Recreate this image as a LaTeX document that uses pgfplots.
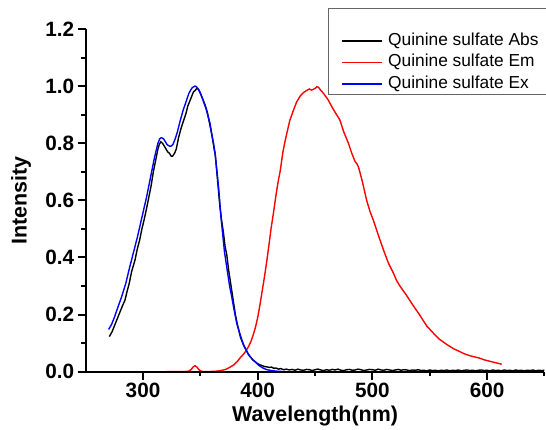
\documentclass[border=0pt]{standalone}
\usepackage{fontspec}
\setmainfont{Liberation Sans}
\usepackage{pgfplots}
\pgfplotsset{compat=1.18}
\begin{document}
\begin{tikzpicture}
\begin{axis}[
  scale only axis,
  width=458.7bp, height=342.7bp,
  xmin=250, xmax=650, ymin=0, ymax=1.2,
  clip=false,
  unbounded coords=jump,
  axis lines=left,
  axis line style={-, line width=2pt, black},
  tick align=outside,
  xtick={300,400,500,600},
  ytick={0,0.2,0.4,0.6,0.8,1.0,1.2},
  minor xtick={350,450,550,650},
  minor ytick={0.1,0.3,0.5,0.7,0.9,1.1},
  major tick length=8bp, minor tick length=4.5bp,
  every tick/.append style={black, line width=2bp},
  /pgf/number format/assume math mode=true,
  yticklabel style={/pgf/number format/.cd, fixed, fixed zerofill, precision=1},
  ticklabel style={font=\bfseries\fontsize{20.8}{24}\selectfont},
  xlabel={Wavelength(nm)},
  ylabel={Intensity},
  label style={font=\bfseries\fontsize{21.5}{24}\selectfont},
  xlabel style={at={(axis description cs:0.5,-0.1453)}, anchor=base},
  ylabel style={at={(axis description cs:-0.1286,0.5)}, anchor=base, rotate=0},
  legend cell align=left,
  legend image code/.code={\draw[#1] (0bp,0bp) -- (40bp,0bp);},
  legend style={at={(axis description cs:0.529,1.0604)}, anchor=north west,
    overlay,
    draw=black!60, line width=0.8bp, inner xsep=13bp, inner ysep=0bp,
    row sep=0bp,
    font=\fontsize{17.4}{19}\selectfont,
    nodes={inner ysep=3bp, inner xsep=2.5bp, text height=12bp, text depth=3.5bp},
    /tikz/every odd column/.append style={column sep=2.5bp}},
]
\addlegendimage{empty legend}
\addlegendentry{}
% Absorbance (black)
\addplot[black, line width=1.4bp] coordinates {
(270.6,0.123)(273,0.14)(275,0.16)(278,0.19)(280,0.21)(282,0.23)(284.3,0.251)(286,0.28)(288,0.31)(290,0.35)(293,0.391)(295,0.43)(297,0.46)(299,0.50)(300.9,0.531)(303,0.57)(305,0.61)(307,0.65)(309,0.70)(311,0.74)(312,0.76)(313,0.78)(314.2,0.796)(315.5,0.805)(317,0.80)(318.5,0.79)(320,0.78)(321.5,0.77)(323,0.765)(324.5,0.755)(325.8,0.755)(327.5,0.765)(329,0.78)(331,0.82)(333,0.85)(335,0.875)(337.5,0.905)(339,0.93)(341,0.95)(343,0.97)(344,0.98)(345.5,0.985)(346.8,0.992)(348,0.99)(349,0.985)(350.5,0.97)(352,0.955)(354,0.935)(356,0.91)(358,0.87)(360,0.83)(362,0.78)(363,0.76)(365,0.67)(367,0.58)(368.5,0.53)(370,0.49)(371.5,0.44)(373,0.41)(374.5,0.36)(376,0.32)(377.5,0.28)(379,0.24)(380.5,0.20)(382,0.17)(383.5,0.145)(385,0.12)(386.5,0.105)(388,0.09)(390,0.075)(392,0.06)(394,0.05)(396,0.04)(398,0.034)(400,0.028)(402,0.024)(404,0.021)(406,0.018)(408,0.017)(410,0.015)(412,0.016)(414,0.012)(416,0.013)(418,0.009)(420,0.011)
(422.5,0.007)(425,0.009)(427.5,0.006)(430,0.008)(432.5,0.005)(435,0.009)(437.5,0.006)(440,0.005)(442.5,0.008)(445,0.007)(447.5,0.004)(450,0.007)(452.5,0.009)(455,0.006)(457.5,0.004)(460,0.007)(462.5,0.005)(465,0.008)(467.5,0.006)(470,0.009)(472.5,0.005)(475,0.004)(477.5,0.007)(480,0.008)(482.5,0.005)(485,0.006)(487.5,0.009)(490,0.007)(492.5,0.004)(495,0.006)(497.5,0.008)(500,0.007)(502.5,0.005)(505,0.009)(507.5,0.006)(510,0.005)(512.5,0.008)(515,0.006)(517.5,0.004)(520,0.006)(522.5,0.008)(525,0.005)(527.5,0.007)(530,0.006)(532.5,0.004)(535,0.006)(537.5,0.005)(540,0.007)(542.5,0.004)(545,0.005)(547.5,0.003)(550,0.006)(552.5,0.004)(555,0.005)(557.5,0.003)(560,0.005)(562.5,0.004)(565,0.006)(567.5,0.003)(570,0.005)(572.5,0.004)(575,0.006)(577.5,0.003)(580,0.005)(582.5,0.006)(585,0.004)(587.5,0.005)(590,0.003)(592.5,0.005)(595,0.006)(597.5,0.004)(600,0.005)(602.5,0.003)(605,0.006)(607.5,0.004)(610,0.005)(612.5,0.003)(615,0.006)(617.5,0.004)(620,0.005)(622.5,0.003)(625,0.006)(627.5,0.004)(630,0.005)(632.5,0.003)(635,0.005)(637.5,0.004)(640,0.006)(642.5,0.003)(645,0.005)(647.5,0.004)(650,0.005)
};
\addlegendentry{Quinine sulfate Abs}
% Emission (red)
\addplot[red, line width=1.4bp] coordinates {
(320,0)(335,0)(340,0.002)(342,0.008)(343.5,0.016)(345.3,0.021)(347,0.016)(348.5,0.008)(350,0.003)(353,0)(360,0.001)(365,0.002)(369,0.005)(372,0.008)(375,0.014)(378.8,0.023)(382,0.035)(385,0.05)(388,0.063)(390,0.075)(392,0.088)(394,0.105)(396,0.128)(398,0.155)(400,0.19)(402,0.235)(404,0.285)(406,0.335)(408,0.39)(410,0.45)(411.6,0.50)(413.7,0.555)(416,0.62)(418,0.67)(419.5,0.70)(422,0.77)(424,0.81)(425.4,0.835)(428,0.88)(431.2,0.916)(434,0.945)(437,0.965)(440,0.978)(442.8,0.985)(445,0.99)(447,0.986)(449,0.99)(450.5,0.993)(451.5,0.998)(453,0.996)(455,0.985)(457.3,0.975)(459,0.965)(461,0.955)(464.6,0.928)(468,0.905)(471.7,0.881)(475,0.84)(479.1,0.80)(482,0.765)(485,0.735)(486.5,0.728)(488,0.715)(491,0.67)(495,0.60)(498,0.56)(500.8,0.531)(505,0.48)(509.7,0.426)(514,0.38)(518.4,0.345)(521,0.32)(524,0.30)(527,0.283)(530,0.266)(535,0.235)(541,0.2)(547.4,0.16)(552,0.14)(558,0.115)(565,0.095)(571,0.08)(576.4,0.07)(580,0.063)(585,0.056)(590,0.051)(593.9,0.047)(598,0.041)(603,0.036)(608,0.031)(612.8,0.026)
};
\addlegendentry{Quinine sulfate Em}
% Excitation (blue)
\addplot[blue, line width=1.4bp] coordinates {
(270,0.148)(272.5,0.165)(275,0.19)(278,0.225)(281.4,0.263)(285,0.31)(288,0.36)(291.5,0.415)(295,0.47)(299,0.54)(301,0.575)(303,0.61)(305,0.65)(307,0.69)(308.5,0.72)(310,0.75)(311.5,0.775)(313,0.80)(314.5,0.815)(315.7,0.819)(317,0.818)(318,0.815)(319.5,0.805)(321,0.795)(323,0.79)(324.5,0.79)(326,0.795)(328,0.815)(330,0.84)(332.5,0.88)(335,0.916)(337.5,0.945)(340,0.975)(341.5,0.986)(343,0.995)(345.3,1.0)(346.5,0.998)(348,0.99)(350,0.975)(352,0.955)(355,0.92)(357,0.89)(358.4,0.87)(360,0.83)(361.5,0.80)(362.8,0.765)(364.5,0.70)(366,0.64)(367,0.59)(368,0.54)(369,0.50)(370,0.46)(371,0.42)(372.5,0.38)(374,0.34)(375.5,0.30)(377.3,0.263)(379,0.225)(380.5,0.195)(381.7,0.17)(383.5,0.145)(385.5,0.12)(387.5,0.095)(390,0.075)(392,0.06)(395,0.045)(397.7,0.035)(401,0.022)(405,0.012)(408,0.007)(412,0.004)(416,0.002)(420,0.001)(424,0)
};
\addlegendentry{Quinine sulfate Ex}
% axis spines and tick marks drawn through the axis
\addplot[black, line width=2.2bp, forget plot] coordinates {(250,1.2)(250,0)(650,0)};
\addplot[black, line width=2bp, forget plot] coordinates {
(300,0)(300,-0.028)(300,nan)(400,0)(400,-0.028)(400,nan)(500,0)(500,-0.028)(500,nan)(600,0)(600,-0.028)(600,nan)
(350,0)(350,-0.0158)(350,nan)(450,0)(450,-0.0158)(450,nan)(550,0)(550,-0.0158)(550,nan)(650,0)(650,-0.0158)};
\addplot[black, line width=2bp, forget plot] coordinates {
(250,0)(243.02,0)(250,nan)(250,0.2)(243.02,0.2)(250,nan)(250,0.4)(243.02,0.4)(250,nan)(250,0.6)(243.02,0.6)(250,nan)(250,0.8)(243.02,0.8)(250,nan)(250,1.0)(243.02,1.0)(250,nan)(250,1.2)(243.02,1.2)(250,nan)
(250,0.1)(246.08,0.1)(250,nan)(250,0.3)(246.08,0.3)(250,nan)(250,0.5)(246.08,0.5)(250,nan)(250,0.7)(246.08,0.7)(250,nan)(250,0.9)(246.08,0.9)(250,nan)(250,1.1)(246.08,1.1)};
\coordinate (O) at (rel axis cs:0,0);
\end{axis}
\path ([shift={(-85.7bp,-57.3bp)}]O) rectangle ([shift={(460.3bp,371.7bp)}]O);
\end{tikzpicture}
\end{document}
